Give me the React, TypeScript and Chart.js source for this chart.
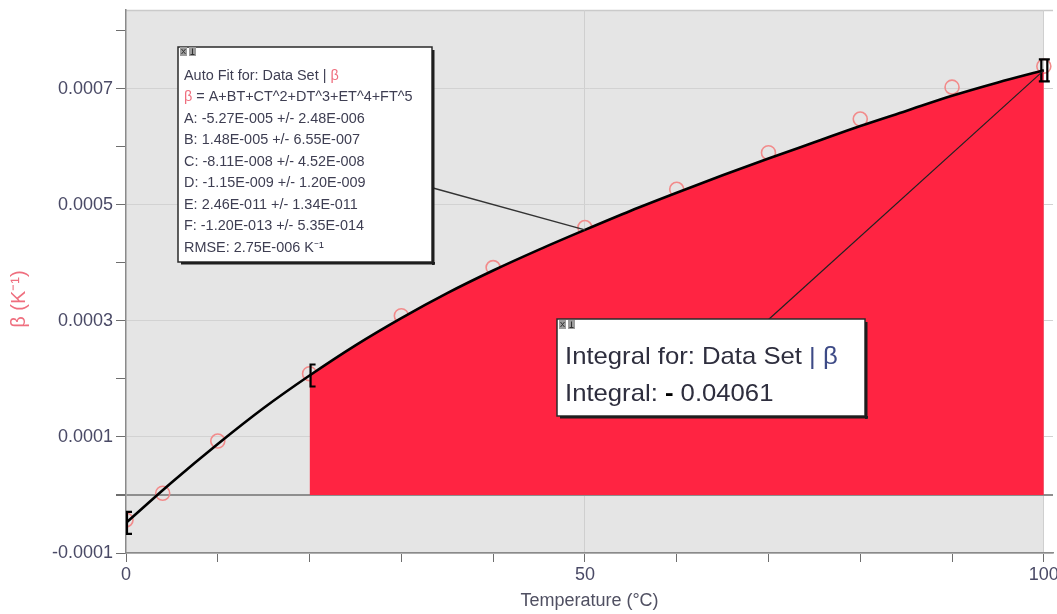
import React, { useEffect, useRef } from 'react';
import { Chart, registerables } from 'chart.js';

Chart.register(...registerables);

// ---- data ----
const tempMeasured = [0, 4, 10, 20, 30, 40, 50, 60, 70, 80, 90, 100];
const betaMeasured = [-0.000043, 0.000003, 0.000093, 0.000209, 0.000309, 0.000392, 0.000461, 0.000527, 0.00059, 0.000648, 0.000703, 0.000739];

const tempFit = [0, 5, 10, 15, 20, 25, 30, 35, 40, 45, 50, 55, 60, 65, 70, 75, 80, 85, 90, 95, 100];
const betaFit = [-0.000048, 0.000022, 0.000088, 0.00015, 0.000206, 0.000258, 0.000305, 0.000348, 0.000387, 0.000423, 0.000457, 0.00049, 0.000521, 0.000551, 0.00058, 0.000608, 0.000636, 0.000662, 0.000688, 0.000711, 0.000732];

const integralStart = 20;
const integralEnd = 100;
const fitLabelAt = 50;

const xTickLabels = [0, 50, 100];
const yTickLabels = ['-0.0001', '0.0001', '0.0003', '0.0005', '0.0007'];

const xTitle = 'Temperature (°C)';
const yTitle = 'β (K⁻¹)';

const fitHeader = 'Auto Fit for: Data Set | ';
const fitFormula = ' = A+BT+CT^2+DT^3+ET^4+FT^5';
const fitLines = [
  'A: -5.27E-005 +/- 2.48E-006',
  'B: 1.48E-005 +/- 6.55E-007',
  'C: -8.11E-008 +/- 4.52E-008',
  'D: -1.15E-009 +/- 1.20E-009',
  'E: 2.46E-011 +/- 1.34E-011',
  'F: -1.20E-013 +/- 5.35E-014',
  'RMSE: 2.75E-006 K⁻¹',
];
const integralHeader = 'Integral for: Data Set';
const integralLabel = 'Integral: ';
const integralValue = '0.04061';

// ---- styles ----
const FONT = "'Liberation Sans', Arial, sans-serif";
const RED = '#ff2442';
const PINK = '#ef6f7f';
const TEXT = '#3e3e52';
const TICK_TEXT = '#4a4a66';

const fitAt = (t: number) => betaFit[tempFit.indexOf(t)];

function drawRuns(ctx: CanvasRenderingContext2D, runs: { text: string; color: string; font: string }[], x: number, y: number, sx: number) {
  ctx.save();
  ctx.translate(x, y);
  ctx.scale(sx, 1);
  ctx.textAlign = 'left';
  ctx.textBaseline = 'middle';
  let cx = 0;
  for (const r of runs) {
    ctx.font = r.font;
    ctx.fillStyle = r.color;
    ctx.fillText(r.text, cx, 0);
    cx += ctx.measureText(r.text).width;
  }
  ctx.restore();
}

function drawIcons(ctx: CanvasRenderingContext2D, x: number, y: number) {
  for (let i = 0; i < 2; i++) {
    const ix = x + i * 9;
    ctx.fillStyle = '#9c9c9c';
    ctx.fillRect(ix, y, 7, 9);
    ctx.strokeStyle = '#333';
    ctx.lineWidth = 1;
    ctx.beginPath();
    if (i === 0) {
      ctx.moveTo(ix + 1.5, y + 2);
      ctx.lineTo(ix + 5.5, y + 7);
      ctx.moveTo(ix + 5.5, y + 2);
      ctx.lineTo(ix + 1.5, y + 7);
    } else {
      ctx.moveTo(ix + 3.5, y + 1.5);
      ctx.lineTo(ix + 3.5, y + 7.5);
      ctx.moveTo(ix + 1.5, y + 7.5);
      ctx.lineTo(ix + 5.5, y + 7.5);
    }
    ctx.stroke();
  }
}

function drawBox(ctx: CanvasRenderingContext2D, l: number, t: number, r: number, b: number) {
  ctx.fillStyle = '#ffffff';
  ctx.fillRect(l, t, r - l, b - t);
  ctx.strokeStyle = '#2a2a2a';
  ctx.lineWidth = 1.5;
  ctx.strokeRect(l, t, r - l, b - t);
  ctx.fillStyle = '#1e1e1e';
  ctx.fillRect(r, t + 3, 2.5, b - t);
  ctx.fillRect(l + 3, b, r - l, 2.5);
}

const decorPlugin = {
  id: 'decor',
  beforeDraw(chart: any) {
    const { ctx, chartArea: a, scales } = chart;
    const x100 = scales.x.getPixelForValue(integralEnd);
    ctx.save();
    ctx.fillStyle = '#e5e5e5';
    ctx.fillRect(a.left, a.top, x100 - a.left, a.bottom - a.top);
    ctx.fillStyle = '#ffffff';
    ctx.fillRect(x100, a.top, a.right - x100, a.bottom - a.top);
    ctx.strokeStyle = '#cacaca';
    ctx.lineWidth = 1.5;
    ctx.beginPath();
    ctx.moveTo(a.left, a.top + 0.5);
    ctx.lineTo(a.right, a.top + 0.5);
    ctx.stroke();
    ctx.restore();
  },
  afterDraw(chart: any) {
    const { ctx, scales } = chart;
    const { x, y } = scales;
    ctx.save();

    // brackets marking the fit / integral range
    ctx.strokeStyle = '#000';
    ctx.lineWidth = 2.2;
    const bracket = (t: number) => {
      const px = x.getPixelForValue(t);
      const py = y.getPixelForValue(fitAt(t));
      ctx.beginPath();
      ctx.moveTo(px + 6, py - 11);
      ctx.lineTo(px + 1, py - 11);
      ctx.lineTo(px + 1, py + 11);
      ctx.lineTo(px + 6, py + 11);
      ctx.stroke();
    };
    bracket(tempFit[0]);
    bracket(integralStart);
    {
      const px = x.getPixelForValue(integralEnd);
      const py = y.getPixelForValue(fitAt(integralEnd));
      ctx.beginPath();
      ctx.moveTo(px - 5, py - 11);
      ctx.lineTo(px + 6, py - 11);
      ctx.moveTo(px - 5, py + 11);
      ctx.lineTo(px + 6, py + 11);
      ctx.moveTo(px - 2.5, py - 11);
      ctx.lineTo(px - 2.5, py + 11);
      ctx.moveTo(px + 3.5, py - 11);
      ctx.lineTo(px + 3.5, py + 11);
      ctx.stroke();
    }

    // connector lines
    ctx.strokeStyle = '#333';
    ctx.lineWidth = 1.3;
    ctx.beginPath();
    ctx.moveTo(433, 188);
    ctx.lineTo(x.getPixelForValue(fitLabelAt), y.getPixelForValue(fitAt(fitLabelAt)));
    ctx.stroke();
    ctx.strokeStyle = '#222';
    ctx.lineWidth = 1.2;
    ctx.beginPath();
    ctx.moveTo(x.getPixelForValue(integralEnd), y.getPixelForValue(fitAt(integralEnd)));
    ctx.lineTo(768, 320);
    ctx.stroke();

    // fit box
    drawBox(ctx, 178, 47, 432, 262);
    drawIcons(ctx, 180, 47);
    const f = `14px ${FONT}`;
    drawRuns(ctx, [{ text: fitHeader, color: TEXT, font: f }, { text: 'β', color: PINK, font: f }], 184, 76, 1.03);
    drawRuns(ctx, [{ text: 'β', color: PINK, font: f }, { text: fitFormula, color: TEXT, font: f }], 184, 97.5, 1.03);
    fitLines.forEach((line, i) => {
      drawRuns(ctx, [{ text: line, color: TEXT, font: f }], 184, 119 + i * 21.5, 1.03);
    });

    // integral box
    drawBox(ctx, 557, 319, 865, 416);
    drawIcons(ctx, 559, 320);
    const g = `24px ${FONT}`;
    drawRuns(ctx, [{ text: integralHeader, color: '#2e2e3e', font: g }, { text: ' | β', color: '#3d4a86', font: g }], 565, 357, 1.07);
    drawRuns(ctx, [
      { text: integralLabel, color: '#2e2e3e', font: g },
      { text: '-', color: '#000', font: `bold 24px ${FONT}` },
      { text: ' ' + integralValue, color: '#2e2e3e', font: g },
    ], 565, 394, 1.07);

    // y axis title
    ctx.translate(19, 299);
    ctx.rotate(-Math.PI / 2);
    ctx.font = `20px ${FONT}`;
    ctx.fillStyle = PINK;
    ctx.textAlign = 'center';
    ctx.textBaseline = 'middle';
    ctx.fillText(yTitle, 0, 0);
    ctx.restore();
  },
};

export default function App() {
  const ref = useRef<HTMLCanvasElement>(null);
  useEffect(() => {
    if (!ref.current) return;
    const measured = tempMeasured.map((t, i) => ({ x: t, y: betaMeasured[i] }));
    const fit = tempFit.map((t, i) => ({ x: t, y: betaFit[i] }));
    const area = fit.filter((p) => p.x >= integralStart && p.x <= integralEnd);
    const chart = new Chart(ref.current, {
      type: 'scatter',
      data: {
        datasets: [
          {
            label: 'fit',
            data: fit,
            showLine: true,
            borderColor: '#000',
            borderWidth: 2.6,
            pointRadius: 0,
            cubicInterpolationMode: 'monotone',
            fill: false,
            order: 1,
          } as any,
          {
            label: 'integral',
            data: area,
            showLine: true,
            borderWidth: 0,
            borderColor: 'rgba(0,0,0,0)',
            backgroundColor: RED,
            pointRadius: 0,
            cubicInterpolationMode: 'monotone',
            fill: 'origin',
            order: 2,
          } as any,
          {
            label: 'β',
            data: measured,
            showLine: false,
            pointRadius: 7,
            pointBorderWidth: 1.6,
            borderColor: '#f28b8b',
            backgroundColor: 'rgba(0,0,0,0)',
            order: 3,
          } as any,
        ],
      },
      options: {
        responsive: false,
        animation: false,
        devicePixelRatio: 1,
        layout: { autoPadding: false, padding: { top: 10, right: 4, left: 0, bottom: 0 } },
        plugins: { legend: { display: false }, tooltip: { enabled: false } },
        scales: {
          x: {
            type: 'linear',
            min: 0,
            max: 101,
            afterFit: (s: any) => {
              s.height = 61;
              s.paddingLeft = 0;
              s.paddingRight = 0;
            },
            ticks: {
              stepSize: 10,
              includeBounds: false,
              autoSkip: false,
              maxRotation: 0,
              color: TICK_TEXT,
              font: { family: FONT, size: 18 },
              padding: 2,
              callback: (v: any) => (xTickLabels.includes(Math.round(v)) ? String(Math.round(v)) : ''),
            },
            grid: {
              color: (c: any) => ([50, 100].includes(Math.round(c.tick?.value ?? -1)) ? '#cfcfcf' : 'rgba(0,0,0,0)'),
              tickColor: '#6e6e6e',
              tickLength: 9,
              lineWidth: 1,
            },
            border: { color: '#8a8a8a', width: 1.5 },
            title: {
              display: true,
              text: xTitle,
              color: '#505062',
              font: { family: FONT, size: 18 },
              padding: { top: 0, bottom: 2 },
            },
          },
          y: {
            type: 'linear',
            min: -0.0001,
            max: 0.000836,
            afterFit: (s: any) => {
              s.width = 126;
              s.paddingTop = 0;
              s.paddingBottom = 0;
            },
            ticks: {
              stepSize: 0.0001,
              includeBounds: false,
              autoSkip: false,
              color: TICK_TEXT,
              font: { family: FONT, size: 18 },
              padding: 3,
              callback: (v: any) => {
                const k = Math.round(v * 1e4);
                const s = (k / 1e4).toFixed(4);
                return yTickLabels.includes(s) ? s : '';
              },
            },
            grid: {
              color: (c: any) => {
                const k = Math.round((c.tick?.value ?? 1) * 1e4);
                if (k === 0) return '#8e8e8e';
                return Math.abs(k) % 2 === 1 ? '#d2d2d2' : 'rgba(0,0,0,0)';
              },
              lineWidth: (c: any) => (Math.round((c.tick?.value ?? 1) * 1e4) === 0 ? 2 : 1),
              tickColor: '#6e6e6e',
              tickLength: 10,
            },
            border: { color: '#8a8a8a', width: 1.5 },
            title: { display: false },
          },
        },
      },
      plugins: [decorPlugin],
    } as any);
    return () => chart.destroy();
  }, []);

  return (
    <div style={{ position: 'fixed', left: 0, top: 0, width: 1057, height: 614, background: '#fff' }}>
      <canvas ref={ref} width={1057} height={614} style={{ display: 'block', width: 1057, height: 614 }} />
    </div>
  );
}
